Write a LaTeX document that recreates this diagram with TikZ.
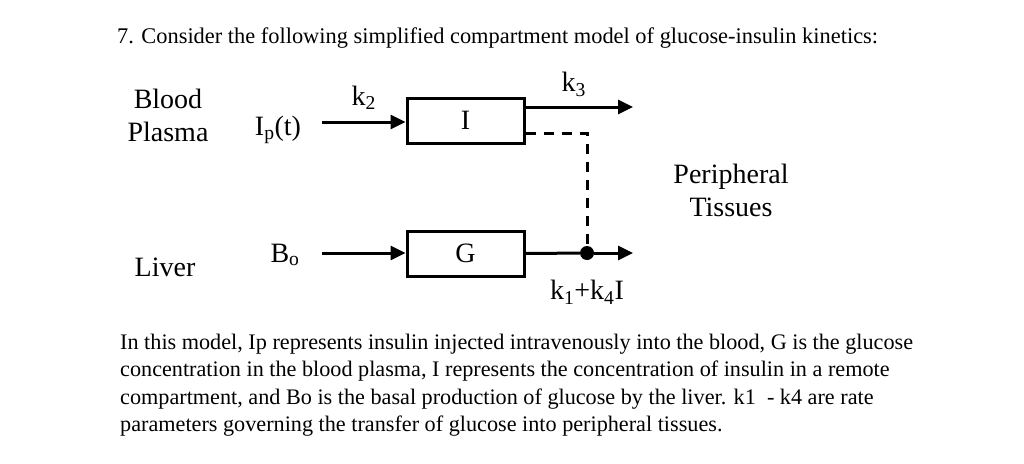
\documentclass[tikz,border=0pt]{standalone}
\usepackage{fontspec}
\setmainfont{Liberation Serif}
\usepackage{tikz}
\usetikzlibrary{arrows.meta, positioning}

\tikzset{
    box/.style={draw, line width=3pt, minimum width=117pt, minimum height=45pt, inner sep=0pt},
    flow/.style={line width=3pt, -{Triangle[length=15pt, width=14pt]}},
    lbl/.style={font=\fontsize{28}{33}\selectfont, inner sep=0pt, align=center},
}

\begin{document}
\begin{tikzpicture}[x=1pt, y=-1pt]
                \useasboundingbox (0,0) rectangle (1024,463);
                \node[anchor=base west, inner sep=0pt, font=\fontsize{22.4}{26}\selectfont] (title) at (117,43)
                    {7. Consider the following simplified compartment model of glucose-insulin kinetics:};
                % region labels
                \node[lbl] (blood) at (168,115) {Blood\\Plasma};
                \node[lbl] (liver) at (165,267) {Liver};
                \node[lbl] (tissues) at (731,190) {Peripheral\\Tissues};
                % compartments
                \node[box, lbl] (I) at (465.5,120.5) {I};
                \node[box, lbl] (G) at (465.5,253.5) {G};
                \node[lbl] (Ip) at (278,130) {I\textsubscript{p}(t)};
                \node[lbl] (Bo) at (285,255) {B\textsubscript{o}};
                \coordinate (ipin) at (322,122);
                \coordinate (boin) at (322,253);
                \draw[flow] (ipin) -- node[lbl, above=11pt] (k2) {k\textsubscript{2}} (ipin -| I.west);
                \draw[flow] (boin) -- (boin -| G.west);
                % outflows
                \coordinate (k3out) at (633,107);
                \draw[flow] (k3out -| I.east) -- node[lbl, above=9pt, pos=0.45] (k3) {k\textsubscript{3}} (k3out);
                \node[circle, fill, inner sep=0pt, minimum size=14pt] (dot) at (587,253) {};
                \coordinate (gout) at (633,253);
                \draw[line width=3pt] (G.east) -- (dot);
                \draw[flow] (dot) -- (gout);
                \draw[line width=3pt, dash pattern=on 10pt off 8pt] ([yshift=-12.5pt]I.east) -| (dot);
                \node[lbl, below=20pt of dot] (k14) {k\textsubscript{1}+k\textsubscript{4}I};
                % description
                \node[anchor=north west, inner sep=0pt, align=left, font=\fontsize{22.2}{27.3}\selectfont] (text) at (120,334)
                    {In this model, Ip represents insulin injected intravenously into the blood, G is the glucose\\
                     concentration in the blood plasma, I represents the concentration of insulin in a remote\\
                     compartment, and Bo is the basal production of glucose by the liver. k1\ \ - k4 are rate\\
                     parameters governing the transfer of glucose into peripheral tissues.};
            \end{tikzpicture}
\end{document}
